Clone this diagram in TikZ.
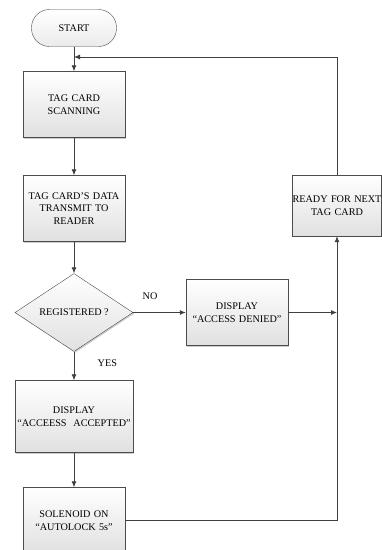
\documentclass[tikz,border=0pt]{standalone}
\usepackage{fontspec}
\setmainfont{Liberation Serif}
\usetikzlibrary{shapes,arrows.meta,shadows}
\tikzstyle{startstop} = [rectangle, rounded corners=18pt, draw=black!70, 
    top color=white, bottom color=black!8, minimum width=85pt, minimum height=37pt]
\tikzstyle{block} = [rectangle, draw=black!70, top color=white, bottom color=black!12, 
    drop shadow={shadow xshift=1.2pt, shadow yshift=-1.2pt, fill=black, opacity=0.2},
    text width=98pt, text centered, inner sep=2pt, minimum height=66pt]
\tikzstyle{wideblock} = [block, text width=114pt, minimum height=72pt]
\tikzstyle{readyblock} = [block, text width=89pt, inner xsep=0pt, minimum height=61pt]
\tikzstyle{decision} = [diamond, aspect=1.5, draw=black!70, top color=white, bottom color=black!12, 
    drop shadow={shadow xshift=1.2pt, shadow yshift=-1.2pt, fill=black, opacity=0.2},
    minimum width=118pt, minimum height=78pt, inner sep=0pt]
\tikzstyle{line} = [draw=black!75, line width=0.8pt, -{Latex[length=6pt, width=5pt]}]

\begin{document}
\begin{tikzpicture}[x=1pt, y=1pt, node distance=104pt, auto,
    font=\fontsize{10.2}{12.5}\selectfont]
    \useasboundingbox (0,0) rectangle (382,-550);
    % Place nodes
    \node [startstop] (start) at (74,-28) {START};
    \coordinate [below of=start, node distance=29pt] (loop);
    \node [block, below of=start, node distance=76.5pt] (scan) {TAG CARD\\SCANNING};
    \node [block, below of=scan] (transmit) {TAG CARD’S DATA\\TRANSMIT TO\\READER};
    \node [decision, below of=transmit] (check) {REGISTERED ?};
    \node [wideblock, below of=check] (accepted) {DISPLAY\\“ACCEESS\ \ ACCEPTED”};
    \node [block, below of=accepted] (solenoid) {SOLENOID ON\\“AUTOLOCK 5s”};
    \node [block, right of=check, node distance=163pt] (denied) {DISPLAY\\“ACCESS DENIED”};
    \node [readyblock, right of=transmit, node distance=263pt, yshift=3pt] (ready) {READY FOR NEXT\\TAG CARD};
    % Draw edges
    \path [line] (start) -- (scan);
    \path [line] (scan) -- (transmit);
    \path [line] (transmit) -- (check);
    \path [line] (check) -- node [pos=0.32, above=9pt] {NO} (denied);
    \path [line] (check) -- node [pos=0.4, right=20pt] {YES} (accepted);
    \path [line] (accepted) -- (solenoid);
    \path [line] (denied) -- (denied -| ready);
    \path [line] (solenoid) -| (ready);
    \path [line] (ready) |- (loop);
\end{tikzpicture}
\end{document}
